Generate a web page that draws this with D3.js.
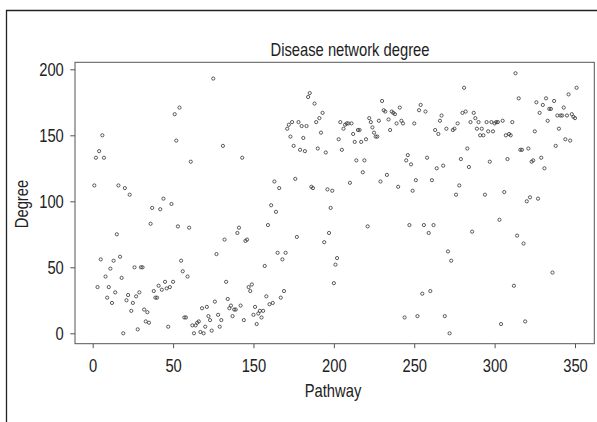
<!DOCTYPE html>
<html>
<head>
<meta charset="utf-8">
<script src="https://cdn.jsdelivr.net/npm/d3@7"></script>
<style>
  body { margin: 0; background: #fff; }
  text { font-family: "Liberation Sans", Arial, sans-serif; fill: #222; }
</style>
</head>
<body>
<div id="chart"></div>
<script>
        // Degree of each pathway, in pathway order
        var degree = [
            112,133,35,138,56,150,133,43,27,35,49,23,55,31,75,112,58,42,0,110,
            25,29,105,17,23,50,28,3,31,50,50,18,9,16,8,83,95,32,27,27,
            36,94,33,102,39,34,5,35,98,39,
            166,146,81,171,55,47,12,12,43,80,130,6,0,6,8,9,1,19,0,5,
            20,13,10,2,193,24,60,14,5,10,142,71,39,26,19,21,13,18,18,76,
            80,21,133,10,70,71,35,32,37,14,
            20,7,15,17,12,17,51,28,82,22,97,23,115,92,61,110,27,56,32,61,
            155,158,149,160,142,117,73,160,139,157,148,138,157,179,182,111,110,174,160,140,
            163,152,167,69,137,109,76,95,108,38,
            52,57,147,160,139,155,158,159,159,114,159,151,145,131,154,154,145,122,131,147,
            81,163,160,156,152,149,149,161,115,176,169,168,120,162,154,168,167,166,159,111,
            171,161,159,12,131,135,82,128,108,159,
            116,13,169,173,30,82,168,133,76,32,116,82,154,125,151,161,165,127,13,155,
            62,0,55,154,155,105,159,112,132,167,186,168,140,126,160,77,167,163,155,160,
            150,155,150,105,160,153,130,160,153,159,
            160,160,86,7,161,107,150,132,151,150,160,36,197,74,178,139,139,68,9,100,
            140,103,130,131,153,175,102,167,133,173,125,178,161,170,170,46,176,142,165,155,
            165,165,171,147,165,181,146,166,164,163,186
        ];

        // Axis ticks as printed on the figure
        var xTickValues = [0, 50, 100, 150, 200, 250, 300];
        var xTickLabels = ["0", "50", "150", "200", "250", "300", "350"];
        var yTickValues = [0, 50, 100, 150, 200];

        var width = 597, height = 422;
        var box = {left: 75, top: 62.3, right: 594.3, bottom: 343.7};
        var narrow = 0.82;   // squeeze a regular face to a narrow one
        var fontSize = "18px";

        var svg = d3.select("#chart")
            .append("svg")
            .attr("width", width)
            .attr("height", height);

        // Outer frame (left and top edges only)
        svg.append("path")
            .attr("d", "M6.5," + height + "V10.5H" + width)
            .attr("fill", "none")
            .attr("stroke", "#222")
            .attr("stroke-width", 1.3);

        // Scales
        var x = d3.scaleLinear().domain([0, 300]).range([92.7, 575]);
        var y = d3.scaleLinear().domain([0, 200]).range([333.3, 69.3]);

        // Plot box
        svg.append("rect")
            .attr("x", box.left)
            .attr("y", box.top)
            .attr("width", box.right - box.left)
            .attr("height", box.bottom - box.top)
            .attr("fill", "none")
            .attr("stroke", "#555")
            .attr("stroke-width", 1);

        // Axes
        var xAxis = svg.append("g")
            .attr("transform", "translate(0," + box.bottom + ")")
            .call(d3.axisBottom(x)
                .tickValues(xTickValues)
                .tickFormat((d, i) => xTickLabels[i])
                .tickSize(4.5)
                .tickPadding(11.5));

        var yAxis = svg.append("g")
            .attr("transform", "translate(" + box.left + ",0)")
            .call(d3.axisLeft(y)
                .tickValues(yTickValues)
                .tickSize(4.7)
                .tickPadding(6.5));

        [xAxis, yAxis].forEach(g => {
            g.select(".domain").remove();
            g.selectAll(".tick line").attr("stroke", "#555");
            g.selectAll(".tick text")
                .attr("fill", "#222")
                .attr("transform", "scale(" + narrow + ",1)")
                .style("font-size", fontSize)
                .style("font-family", "'Liberation Sans', Arial, sans-serif");
        });
        yAxis.selectAll(".tick text").attr("x", -11.2 / narrow);

        // Points
        svg.append("g")
            .selectAll("circle")
            .data(degree)
            .enter().append("circle")
            .attr("cx", (d, i) => x(i + 1))
            .attr("cy", d => y(d))
            .attr("r", 1.6)
            .attr("fill", "none")
            .attr("stroke", "#333")
            .attr("stroke-width", 0.8);

        // Titles
        function label(tx, ty, rot, txt) {
            svg.append("text")
                .attr("transform", "translate(" + tx + "," + ty + ")" + (rot ? " rotate(-90)" : "") + " scale(" + narrow + ",1)")
                .attr("text-anchor", "middle")
                .style("font-size", fontSize)
                .text(txt);
        }
        label(350, 56, false, "Disease network degree");
        label(333, 397, false, "Pathway");
        label(28, 204, true, "Degree");
</script>
</body>
</html>
